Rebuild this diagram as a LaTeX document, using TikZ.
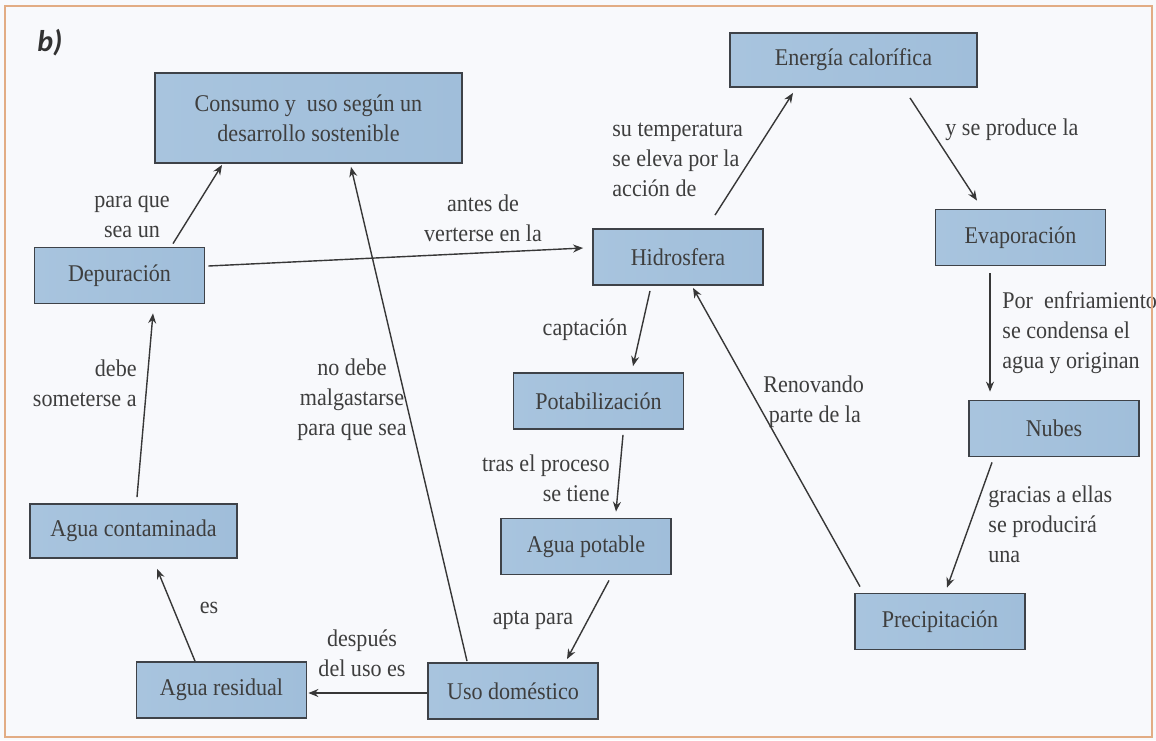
\documentclass[tikz,border=0pt]{standalone}
\usepackage{fontspec}
\setmainfont{Liberation Serif}[FakeStretch=0.92]
\newfontfamily\tagfont{Carlito}
\usetikzlibrary{positioning, arrows.meta, calc}

\definecolor{bgc}{RGB}{248,249,252}
\definecolor{framec}{RGB}{226,172,132}
\definecolor{boxA}{RGB}{168,196,222}
\definecolor{boxB}{RGB}{160,190,218}
\definecolor{boxC}{RGB}{198,216,234}
\definecolor{boxline}{RGB}{62,66,72}
\definecolor{arrc}{RGB}{55,55,55}
\definecolor{txt}{RGB}{62,62,62}

\begin{document}
\begin{tikzpicture}[
  x=0.5pt, y=-0.5pt,
  font=\fontsize{12}{15}\selectfont,
  box/.style={draw=boxline, line width=0.9pt, left color=boxA, middle color=boxC,
              right color=boxB, minimum width=85pt, minimum height=28pt,
              align=center, text=txt, inner sep=2pt},
  lbl/.style={text=txt, inner sep=0pt, align=center},
  link/.style={-{Stealth[length=5pt,width=4pt]}, line width=0.7pt, draw=arrc},
]

\fill[bgc] (0,0) rectangle (1156,740);
\useasboundingbox (0,0) rectangle (1156,740);

\node[text=txt!80!black, font=\tagfont\fontsize{15}{15}\selectfont\bfseries\itshape] (tag) at (50,43) {b)};

% concepts
\node[box, minimum width=153.5pt, minimum height=45pt] (cons) at (308.5,118)
    {Consumo y~ uso según un\\desarrollo sostenible};
\node[box] (dep) at (119.5,275.5) {Depuración};
\node[box, minimum width=123.5pt, minimum height=27pt] (ener) at (853.5,60) {Energía calorífica};
\node[box] (hidro) at (678,257) {Hidrosfera};
\node[box] (evap) at (1020.5,237.5) {Evaporación};
\node[box] (potab) at (598.5,401) {Potabilización};
\node[box] (apot) at (586,546.5) {Agua potable};
\node[box] (uso) at (513,691) {Uso doméstico};
\node[box, minimum width=103.5pt, minimum height=27pt] (acont) at (133.5,531) {Agua contaminada};
\node[box] (ares) at (221.5,690) {Agua residual};
\node[box] (nubes) at (1054,428.5) {Nubes};
\node[box] (precip) at (940,621.5) {Precipitación};

% linking words
\node[lbl] (l-dep) at (132,217) {para que\\sea un};
\node[lbl] (l-uso) at (352,400) {no debe\\malgastarse\\para que sea};
\node[lbl] (l-vert) at (483,218) {antes de\\verterse en la};
\node[lbl, anchor=west, align=left] (l-temp) at (612,160) {su temperatura\\se eleva por la\\acción de};
\node[lbl, anchor=west] (l-prod) at (945,130) {y se produce la};
\node[lbl, anchor=west, align=left] (l-enfr) at (1002,333) {Por~~enfriamiento\\se condensa el\\agua y originan};
\node[lbl] (l-capt) at (585,330) {captación};
\node[lbl, anchor=east, align=right] (l-proc) at (610,478) {tras el proceso\\se tiene};
\node[lbl] (l-apta) at (533,620) {apta para};
\node[lbl] (l-desp) at (362,653) {después\\del uso es};
\node[lbl] (l-es) at (209,608) {es};
\node[lbl, anchor=east, align=right] (l-some) at (137,383) {debe\\someterse a};
\node[lbl, anchor=west, align=left] (l-reno) at (763,402) {Renovando\\~parte de la};
\node[lbl, anchor=west, align=left] (l-grac) at (988,524) {gracias a ellas\\se producirá\\una};

% connectors
\draw[link] ($(dep.north)+(53.5,-3)$) -- ($(cons.south)+(-86.5,1)$);
\draw[link] ($(uso.north)+(-46,-1)$) -- ($(cons.south)+(42.5,3)$);
\draw[link] ($(dep.east)+(3,-9.5)$) -- ($(hidro.west)+(-9,-9)$);
\draw[link] ($(hidro.north)+(37,-13)$) -- ($(ener.south)+(-60.5,5)$);
\draw[link] ($(ener.south)+(56.5,10)$) -- ($(evap.north)+(-43.5,-8)$);
\draw[link] ($(evap.south)+(-30.5,7)$) -- ($(nubes.north)+(-64,-8)$);
\draw[link] ($(hidro.south)+(-28,5)$) -- ($(potab.north)+(34.5,-6)$);
\draw[link] ($(potab.south)+(24.5,5)$) -- ($(apot.north)+(30,-6)$);
\draw[link] ($(apot.south)+(23,5)$) -- ($(uso.north)+(54,-3)$);
\draw[link] ($(uso.west)+(0,2)$) -- ($(ares.east)+(1,3)$);
\draw[link] ($(ares.north)+(-26.5,0)$) -- ($(acont.south)+(23.5,10)$);
\draw[link] ($(acont.north)+(3.5,-6)$) -- ($(dep.south)+(33.5,9)$);
\draw[link] ($(precip.north)+(-80,-6)$) -- ($(hidro.south)+(15,2)$);
\draw[link] ($(nubes.south)+(-62,5)$) -- ($(precip.north)+(7,-5)$);

\draw[framec, line width=1pt] (5,6) rectangle (1152,737);
\end{tikzpicture}
\end{document}
